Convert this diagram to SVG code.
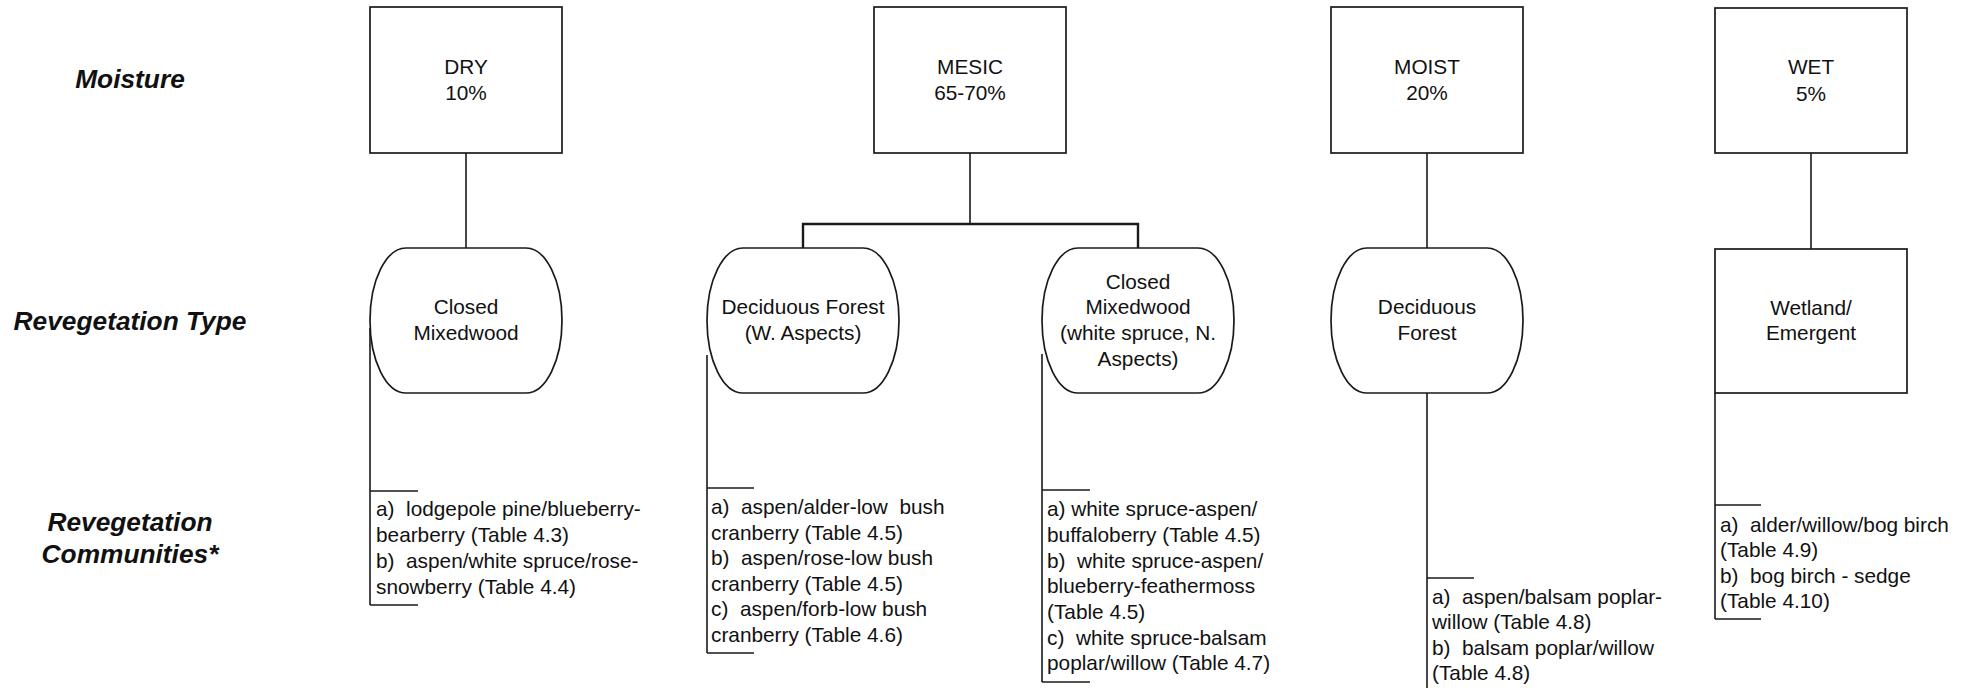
<svg xmlns="http://www.w3.org/2000/svg" width="1977" height="688" viewBox="0 0 1977 688">
<style>
.bg{fill:#ffffff}
.box{fill:#ffffff;stroke:#1a1a1a;stroke-width:1.7}
.ln{fill:none;stroke:#1a1a1a;stroke-width:1.6}
.bar{fill:none;stroke:#1a1a1a;stroke-width:2.4}
.lbl{font-family:"Liberation Sans",Arial,sans-serif;font-size:26.3px;font-weight:bold;font-style:italic;fill:#111;text-anchor:middle}
.t{font-family:"Liberation Sans",Arial,sans-serif;font-size:20.8px;fill:#111;text-anchor:middle}
.c{font-family:"Liberation Sans",Arial,sans-serif;font-size:20.8px;fill:#111;white-space:pre}
</style>
<rect class="bg" x="0" y="0" width="1977" height="688"/>
<g id="labels">
<text class="lbl" x="130" y="88">Moisture</text>
<text class="lbl" x="130" y="330">Revegetation Type</text>
<text class="lbl" x="130" y="531">Revegetation</text>
<text class="lbl" x="130" y="563">Communities*</text>
</g>
<g id="connectors">
<path class="ln" d="M466 153V248"/>
<path class="ln" d="M970 153V224"/>
<path class="bar" d="M803 248V224H1138V248"/>
<path class="ln" d="M1427 153V248"/>
<path class="ln" d="M1811 153V249"/>
<path class="ln" d="M370 328V605M370 491H418M370 605H418"/>
<path class="ln" d="M707 355V653M707 488H754M707 653H754"/>
<path class="ln" d="M1042 354V682M1042 490H1090M1042 682H1090"/>
<path class="ln" d="M1427 393V688M1427 578H1474"/>
<path class="ln" d="M1715 393V619M1715 505H1761M1715 619H1761"/>
</g>
<g id="dry">
<rect class="box" x="370" y="7" width="192" height="146"/>
<text class="t" x="466" y="74">DRY</text>
<text class="t" x="466" y="100">10%</text>
</g>
<g id="mesic">
<rect class="box" x="874" y="7" width="192" height="146"/>
<text class="t" x="970" y="74">MESIC</text>
<text class="t" x="970" y="100">65-70%</text>
</g>
<g id="moist">
<rect class="box" x="1331" y="7" width="192" height="146"/>
<text class="t" x="1427" y="74">MOIST</text>
<text class="t" x="1427" y="100">20%</text>
</g>
<g id="wet">
<rect class="box" x="1715" y="8" width="192" height="145"/>
<text class="t" x="1811" y="74">WET</text>
<text class="t" x="1811" y="101">5%</text>
</g>
<g id="dry-type">
<rect class="box" x="370" y="248" width="192" height="145" rx="36" ry="72.5"/>
<text class="t" x="466" y="314">Closed</text>
<text class="t" x="466" y="340">Mixedwood</text>
</g>
<g id="mesic-type-deciduous">
<rect class="box" x="707" y="248" width="192" height="145" rx="36" ry="72.5"/>
<text class="t" x="803" y="314">Deciduous Forest</text>
<text class="t" x="803" y="340">(W. Aspects)</text>
</g>
<g id="mesic-type-mixedwood">
<rect class="box" x="1042" y="248" width="192" height="145" rx="36" ry="72.5"/>
<text class="t" x="1138" y="289">Closed</text>
<text class="t" x="1138" y="314">Mixedwood</text>
<text class="t" x="1138" y="340">(white spruce, N.</text>
<text class="t" x="1138" y="366">Aspects)</text>
</g>
<g id="moist-type">
<rect class="box" x="1331" y="248" width="192" height="145" rx="36" ry="72.5"/>
<text class="t" x="1427" y="314">Deciduous</text>
<text class="t" x="1427" y="340">Forest</text>
</g>
<g id="wet-type">
<rect class="box" x="1715" y="249" width="192" height="144"/>
<text class="t" x="1811" y="315">Wetland/</text>
<text class="t" x="1811" y="340">Emergent</text>
</g>
<g id="dry-communities">
<text class="c" x="376" y="516">a)  lodgepole pine/blueberry-</text>
<text class="c" x="376" y="542">bearberry (Table 4.3)</text>
<text class="c" x="376" y="568">b)  aspen/white spruce/rose-</text>
<text class="c" x="376" y="594">snowberry (Table 4.4)</text>
</g>
<g id="mesic-deciduous-communities">
<text class="c" x="711" y="514">a)  aspen/alder-low  bush</text>
<text class="c" x="711" y="540">cranberry (Table 4.5)</text>
<text class="c" x="711" y="565">b)  aspen/rose-low bush</text>
<text class="c" x="711" y="591">cranberry (Table 4.5)</text>
<text class="c" x="711" y="616">c)  aspen/forb-low bush</text>
<text class="c" x="711" y="642">cranberry (Table 4.6)</text>
</g>
<g id="mesic-mixedwood-communities">
<text class="c" x="1047" y="516">a) white spruce-aspen/</text>
<text class="c" x="1047" y="542">buffaloberry (Table 4.5)</text>
<text class="c" x="1047" y="568">b)  white spruce-aspen/</text>
<text class="c" x="1047" y="593">blueberry-feathermoss</text>
<text class="c" x="1047" y="619">(Table 4.5)</text>
<text class="c" x="1047" y="645">c)  white spruce-balsam</text>
<text class="c" x="1047" y="670">poplar/willow (Table 4.7)</text>
</g>
<g id="moist-communities">
<text class="c" x="1432" y="604">a)  aspen/balsam poplar-</text>
<text class="c" x="1432" y="629">willow (Table 4.8)</text>
<text class="c" x="1432" y="655">b)  balsam poplar/willow</text>
<text class="c" x="1432" y="680">(Table 4.8)</text>
</g>
<g id="wet-communities">
<text class="c" x="1720" y="532">a)  alder/willow/bog birch</text>
<text class="c" x="1720" y="557">(Table 4.9)</text>
<text class="c" x="1720" y="583">b)  bog birch - sedge</text>
<text class="c" x="1720" y="608">(Table 4.10)</text>
</g>
</svg>
